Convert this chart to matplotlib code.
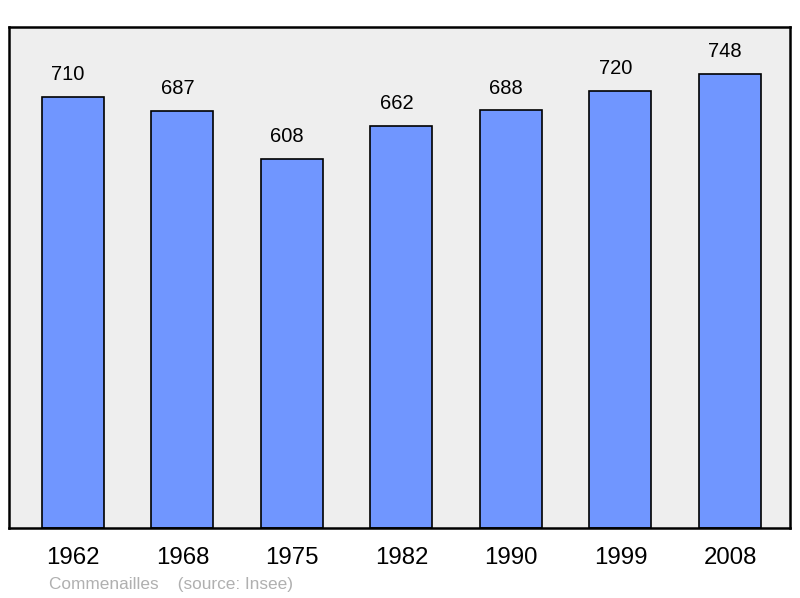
import matplotlib
import matplotlib.pyplot as plt

matplotlib.use("AGG")

years = ["1962", "1968", "1975", "1982", "1990", "1999", "2008"]
population = [710, 687, 608, 662, 688, 720, 748]

plt.rcParams["font.family"] = ["Liberation Sans", "DejaVu Sans"]

fig = plt.figure(figsize=(8, 5.98), dpi=100)
ax = fig.add_axes([9 / 800, 70 / 598, 781 / 800, 501 / 598])
ax.set_facecolor("#eeeeee")

x = range(len(years))
ax.bar(x, population, width=0.566, color="#7096ff", edgecolor="black", linewidth=1.2, zorder=2)

# les étiquettes sont un peu décalées à gauche dans l'original
for xi, v in zip(x, population):
    ax.annotate(str(v), (xi, v), xytext=(-3.6, 9), textcoords="offset points",
                ha="center", va="bottom", fontsize=14.5)

ax.set_xlim(-0.584, 6.548)
ax.set_ylim(0, 825)
ax.set_xticks(list(x))
ax.set_xticklabels(years, fontsize=17.3)
ax.tick_params(axis="x", length=0, pad=14)
ax.set_yticks([])
for s in ax.spines.values():
    s.set_linewidth(1.8)

fig.text(49 / 800, 1 - 584 / 598, "Commenailles    (source: Insee)", fontsize=12.4,
         color="#b0b0b0", va="center", ha="left")

fig.savefig("out.png", dpi=100)
